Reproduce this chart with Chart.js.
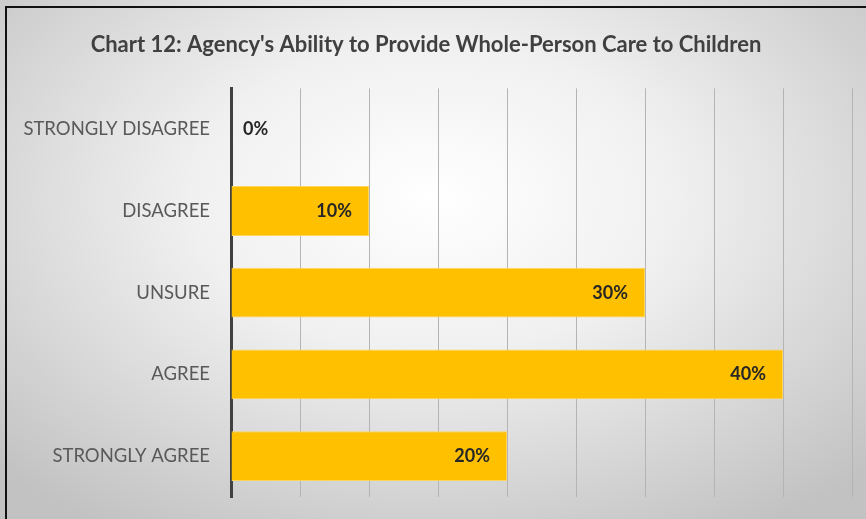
<!DOCTYPE html>
<html>
<head>
<meta charset="utf-8">
<script src="https://cdn.jsdelivr.net/npm/chart.js@4"></script>
<style>
  html, body { margin: 0; padding: 0; overflow: hidden; }
  body {
    width: 866px; height: 519px;
    background: radial-gradient(ellipse 70% 75% at 50% 38%, #ffffff 0%, #f0f0f0 40%, #c2c2c2 100%);
  }
  #chart1 { display: block; }
</style>
</head>
<body>
<canvas id="chart1" width="866" height="519"></canvas>
<script>
(function () {
	const categories = ["STRONGLY DISAGREE", "DISAGREE", "UNSURE", "AGREE", "STRONGLY AGREE"];
	const percents = [0, 10, 30, 40, 20];

	// dark frame along the top and left edges of the chart box
	const frame = {
		id: "frame",
		beforeDraw(chart) {
			const ctx = chart.ctx;
			ctx.save();
			ctx.fillStyle = "#111";
			ctx.fillRect(5, 6, chart.width - 5, 2);
			ctx.fillRect(5, 6, 2, chart.height - 6);
			ctx.restore();
		},
	};

	// percent labels at the inner end of each bar (0 sits just right of the axis)
	const barLabels = {
		id: "barLabels",
		afterDatasetsDraw(chart) {
			const ctx = chart.ctx;
			const meta = chart.getDatasetMeta(0);
			ctx.save();
			ctx.font = "bold 18px Lato";
			ctx.fillStyle = "#262626";
			ctx.textBaseline = "middle";
			meta.data.forEach((bar, i) => {
				const v = percents[i];
				const txt = v + "%";
				if (v === 0) {
					ctx.textAlign = "left";
					ctx.fillText(txt, bar.base + 12, bar.y);
				} else {
					ctx.textAlign = "right";
					ctx.fillText(txt, bar.x - 17, bar.y);
				}
			});
			ctx.restore();
		},
	};

	new Chart(document.getElementById("chart1"), {
		type: "bar",
		data: {
			labels: categories,
			datasets: [
				{
					label: "Percent",
					data: percents,
					backgroundColor: "#ffc000",
					borderColor: "#ffd55c",
					borderWidth: 1,
					borderSkipped: "start",
					barPercentage: 0.61,
					categoryPercentage: 1,
				},
			],
		},
		options: {
			indexAxis: "y",
			responsive: false,
			animation: false,
			layout: {
				padding: { left: 0, right: 14, top: 0, bottom: 22 },
			},
			plugins: {
				legend: { display: false },
				tooltip: { enabled: false },
				title: {
					display: true,
					text: "Chart 12: Agency's Ability to Provide Whole-Person Care to Children",
					color: "#404040",
					font: { family: "Lato", size: 22, weight: "bold", lineHeight: 1.2 },
					padding: { top: 32, bottom: 30 },
				},
			},
			scales: {
				x: {
					min: 0,
					max: 45,
					ticks: { display: false, stepSize: 5 },
					grid: { color: "#b4b4b4", lineWidth: 1, drawTicks: false },
					border: { display: false },
					afterFit: (s) => { s.height = 0; },
				},
				y: {
					ticks: {
						color: "#595959",
						font: { family: "Lato", size: 18.5 },
						padding: 21,
					},
					grid: { display: false, drawTicks: false },
					border: { color: "#404040", width: 3 },
					// fixed label column; drop the label overhang so the plot can reach the bottom
					afterFit: (s) => {
						s.width = 231;
						s.paddingTop = 0;
						s.paddingBottom = 0;
					},
				},
			},
		},
		plugins: [frame, barLabels],
	});
})();
</script>
</body>
</html>
